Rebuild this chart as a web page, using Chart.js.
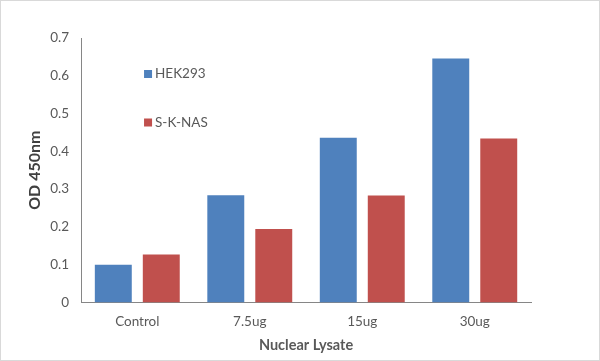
<!DOCTYPE html>
<html>
<head>
<meta charset="utf-8">
<script src="https://cdn.jsdelivr.net/npm/chart.js@4"></script>
<style>
  html, body { margin: 0; padding: 0; background: #fff; }
  #wrap { width: 600px; height: 361px; box-sizing: border-box; border: 1px solid #d9d9d9; }
  canvas { display: block; }
</style>
</head>
<body>
<div id="wrap"><canvas id="myChart" width="598" height="359"></canvas></div>
<script>
const categories = ['Control', '7.5ug', '15ug', '30ug'];
const hek293 = [0.1, 0.284, 0.436, 0.646];
const sknas = [0.127, 0.194, 0.283, 0.434];
const seriesNames = ['HEK293', 'S-K-NAS'];
const seriesColors = ['#4F81BD', '#C0504D'];

// legend sits inside the plot, stacked with big gaps, like the Excel original
const insideLegend = {
    id: 'insideLegend',
    afterDraw: function (chart) {
        const ctx = chart.ctx;
        const area = chart.chartArea;
        ctx.save();
        ctx.font = '13.5px Lato';
        ctx.textBaseline = 'middle';
        chart.data.datasets.forEach(function (ds, i) {
            const x = area.left + 63;
            const y = area.top + 36 + i * 48.5;
            ctx.fillStyle = ds.backgroundColor;
            ctx.fillRect(x, y - 4, 8, 8);
            ctx.fillStyle = '#595959';
            ctx.fillText(ds.label, x + 11, y);
        });
        ctx.restore();
    }
};

// tick padding is counted twice when the axis is sized, so the label gap
// comes from tickLength instead (grid is hidden, so no tick marks are drawn)
const ctx = document.getElementById('myChart').getContext('2d');
const myChart = new Chart(ctx, {
    type: 'bar',
    data: {
        labels: categories,
        datasets: [{
            label: seriesNames[0],
            data: hek293,
            backgroundColor: seriesColors[0],
            barPercentage: 0.77,
            categoryPercentage: 0.853
        }, {
            label: seriesNames[1],
            data: sknas,
            backgroundColor: seriesColors[1],
            barPercentage: 0.77,
            categoryPercentage: 0.853
        }]
    },
    options: {
        responsive: false,
        animation: false,
        layout: { padding: { left: 24, right: 68, top: 37, bottom: 6 } },
        scales: {
            x: {
                grid: { display: false, drawTicks: true, tickLength: 11 },
                border: { display: true, color: '#868686', width: 1 },
                ticks: { color: '#595959', font: { family: 'Lato', size: 13.5 }, padding: 0 },
                title: { display: true, text: 'Nuclear Lysate', color: '#595959', font: { family: 'Lato', size: 14.5, weight: 'bold' }, padding: { top: 7, bottom: 0 } }
            },
            y: {
                min: 0,
                max: 0.7,
                grid: { display: false, drawTicks: true, tickLength: 12 },
                border: { display: true, color: '#868686', width: 1 },
                ticks: { stepSize: 0.1, color: '#595959', font: { family: 'Lato', size: 13.5 }, padding: 0 },
                title: { display: true, text: 'OD 450nm', color: '#404040', font: { family: 'Lato', size: 16, weight: 'bold' }, padding: { top: 0, bottom: 6 } }
            }
        },
        plugins: {
            legend: { display: false },
            tooltip: { enabled: false }
        }
    },
    plugins: [insideLegend]
});
</script>
</body>
</html>
